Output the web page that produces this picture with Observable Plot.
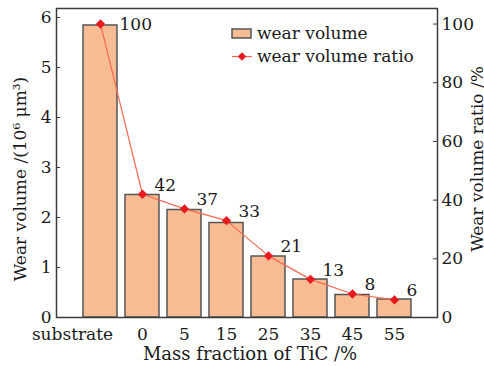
<!DOCTYPE html>
<html>
<head>
<meta charset="utf-8">
<script src="https://cdn.jsdelivr.net/npm/d3@7"></script>
<script src="https://cdn.jsdelivr.net/npm/@observablehq/plot@0.6"></script>
<style>
  html, body { margin: 0; padding: 0; background: #fff; }
  #wrap { position: relative; width: 484px; height: 366px; overflow: hidden; }
  #legend { position: absolute; left: 230px; top: 22px; font-family: "DejaVu Serif", serif; font-size: 17px; color: #1a1a1a; line-height: 23px; }
  #legend .row { display: flex; align-items: center; white-space: nowrap; }
  #legend svg { margin-right: 5px; }
</style>
</head>
<body>
<div id="wrap"></div>
<script>
const categories = ["substrate", "0", "5", "15", "25", "35", "45", "55"];
const wearVolume = [5.84, 2.45, 2.15, 1.89, 1.22, 0.76, 0.45, 0.36];
const wearRatio = [100, 42, 37, 33, 21, 13, 8, 6];
const leftTicks = [0, 1, 2, 3, 4, 5, 6];
const rightTicks = [0, 20, 40, 60, 80, 100];
const leftMax = 6.18;
const rightMax = 105.3;
const seriesNames = ["wear volume", "wear volume ratio"];
const xTitle = "Mass fraction of TiC /%";
const yTitle = "Wear volume /(10⁶ μm³)";
const y2Title = "Wear volume ratio /%";

const k = leftMax / rightMax; // ratio units -> left axis units
const data = categories.map((c, i) => ({cat: c, vol: wearVolume[i], ratio: wearRatio[i], r: wearRatio[i] * k}));

const barFill = "#f7bc93", barStroke = "#555555", lineColor = "#f7694f", dotColor = "#e8191f", axisColor = "#3a3a3a";

const chart = Plot.plot({
  width: 484,
  height: 366,
  marginLeft: 56,
  marginRight: 47,
  marginTop: 8,
  marginBottom: 49,
  style: {fontFamily: "DejaVu Serif, serif", fontSize: "17px", background: "#fff", color: "#1a1a1a", overflow: "visible"},
  x: {domain: categories, paddingInner: 0.2, paddingOuter: 0.58, label: null},
  y: {domain: [0, leftMax], label: null},
  marks: [
    Plot.barY(data, {x: "cat", y: "vol", fill: barFill, stroke: barStroke, strokeWidth: 1.5}),
    Plot.line(data, {x: "cat", y: "r", stroke: lineColor, strokeWidth: 1.2}),
    Plot.dot(data, {x: "cat", y: "r", symbol: "diamond2", r: 4, fill: dotColor, stroke: dotColor, strokeWidth: 0.5}),
    Plot.text(data.slice(0, 1), {x: "cat", y: "r", text: d => String(d.ratio), textAnchor: "start", dx: 19, dy: 0, fill: "#1a1a1a"}),
    Plot.text(data.slice(1), {x: "cat", y: "r", text: d => String(d.ratio), textAnchor: "start", dx: 12, dy: -9, fill: "#1a1a1a"}),
    // left axis: inward ticks + labels
    Plot.axisY({anchor: "left", ticks: leftTicks, tickSize: -4, text: null, stroke: axisColor, label: null}),
    Plot.axisY({anchor: "left", ticks: leftTicks, tickSize: 0, tickPadding: 5, label: null, tickFormat: d => String(d)}),
    // right axis (ratio)
    Plot.axisY(rightTicks.map(v => v * k), {anchor: "right", tickSize: -5, text: null, stroke: axisColor, label: null}),
    Plot.axisY(rightTicks.map(v => v * k), {anchor: "right", tickSize: 0, tickPadding: 4, label: null, tickFormat: d => String(Math.round(d / k))}),
    // bottom axis labels
    Plot.axisX(categories.slice(0, 1), {anchor: "bottom", tickSize: 0, tickPadding: 10, dx: -28, label: null}),
    Plot.axisX(categories.slice(1), {anchor: "bottom", tickSize: 0, tickPadding: 10, label: null}),
    // axis titles
    Plot.text([yTitle], {frameAnchor: "left", textAnchor: "middle", lineAnchor: "middle", dx: -36, dy: 16, rotate: -90, fill: "#1a1a1a"}),
    Plot.text([y2Title], {frameAnchor: "right", textAnchor: "middle", lineAnchor: "middle", dx: 40, dy: -4, rotate: -90, fill: "#1a1a1a"}),
    Plot.text([xTitle], {frameAnchor: "bottom", textAnchor: "middle", lineAnchor: "middle", dx: 3, dy: 37, fontSize: 18, fill: "#1a1a1a"}),
    Plot.frame({stroke: axisColor, strokeWidth: 1.5})
  ]
});

const wrap = document.getElementById("wrap");
wrap.appendChild(chart);

const legend = document.createElement("div");
legend.id = "legend";
legend.innerHTML = `
  <div class="row"><svg width="22" height="23"><rect x="2" y="7" width="19" height="9" fill="${barFill}" stroke="${barStroke}" stroke-width="1.5"/></svg><span>${seriesNames[0]}</span></div>
  <div class="row"><svg width="22" height="23"><line x1="2" y1="11.5" x2="22" y2="11.5" stroke="${lineColor}" stroke-width="1.2"/><path d="${d3.symbol(d3.symbolSquare, 36)()}" transform="translate(12,11.5) rotate(45)" fill="${dotColor}"/></svg><span>${seriesNames[1]}</span></div>
`;
wrap.appendChild(legend);
</script>
</body>
</html>
